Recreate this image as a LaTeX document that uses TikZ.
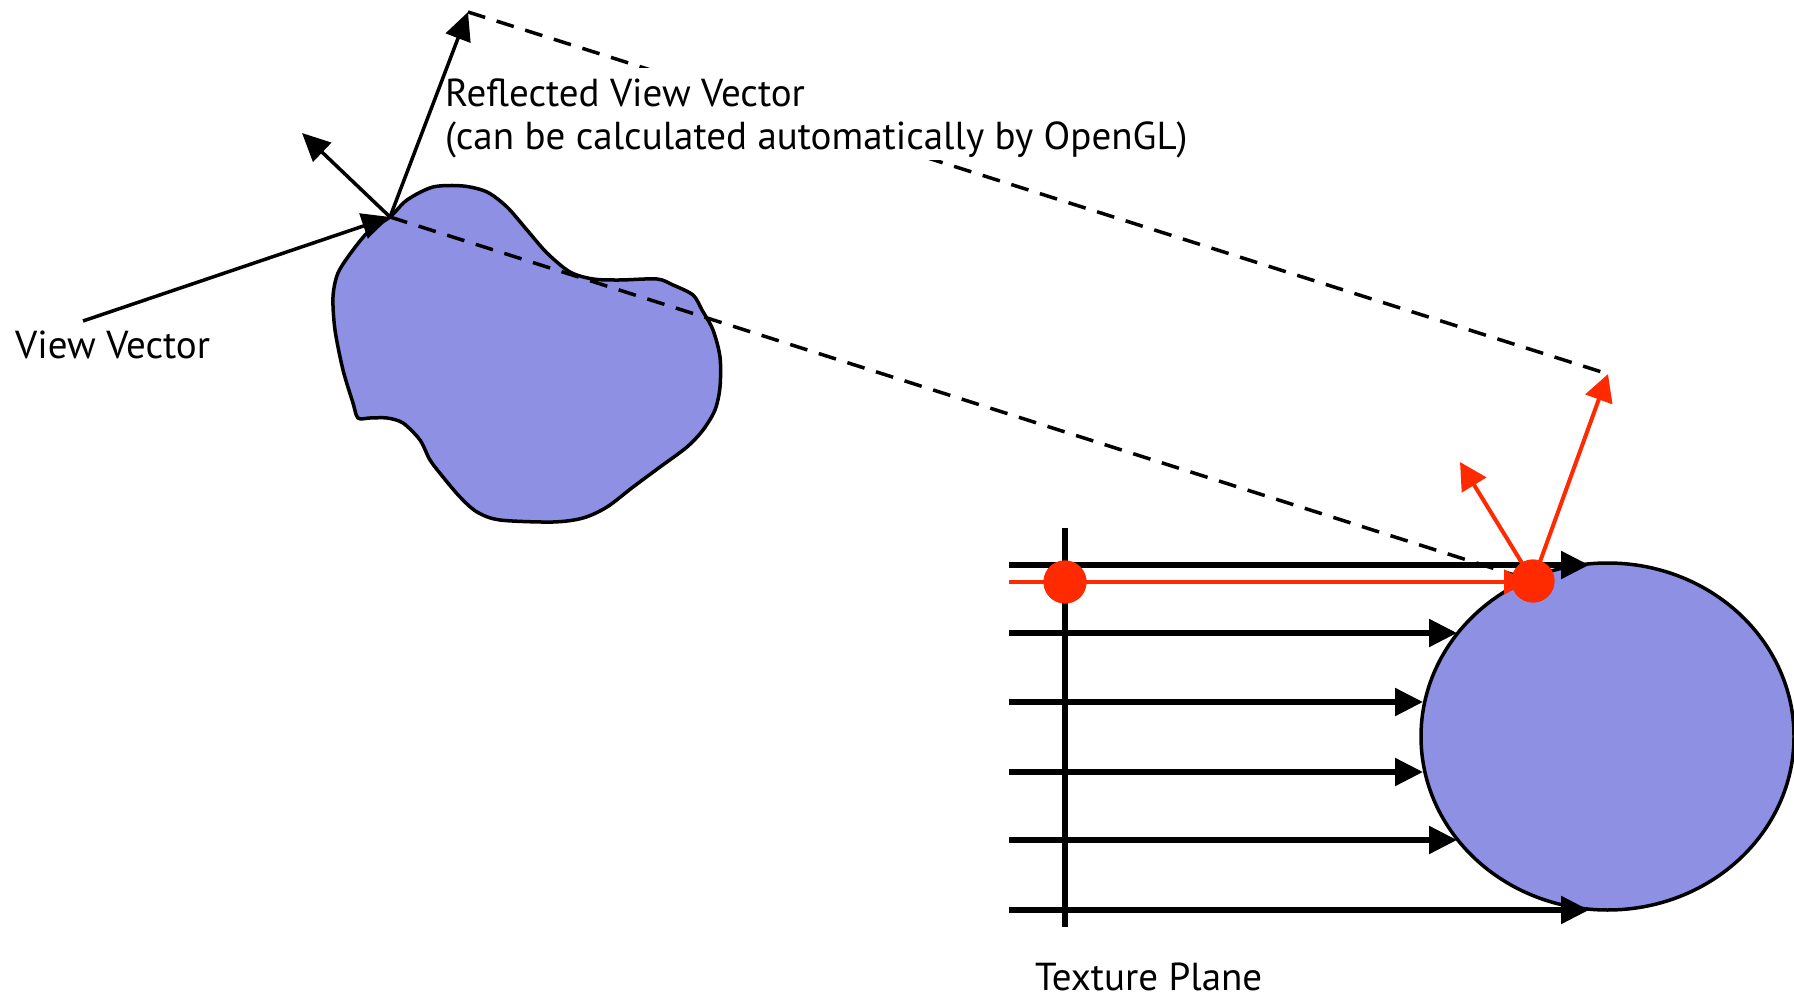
\documentclass[tikz,border=0pt]{standalone}
\usepackage{fontspec}
\setmainfont{PT Sans}
\usetikzlibrary{arrows.meta,shapes.geometric}
\definecolor{blobblue}{RGB}{142,144,228}
\definecolor{vred}{RGB}{255,42,0}
\begin{document}
\begin{tikzpicture}[x=1pt,y=-1pt,
  lbl/.style={font=\fontsize{39}{43}\selectfont, inner sep=0pt, anchor=base west},
  blk/.style={line width=3.5pt, -{Triangle[length=28pt,width=26pt]}},
  ray/.style={line width=5.5pt, -{Triangle[length=28pt,width=27pt]}},
  redarr/.style={vred, line width=4pt, -{Triangle[length=27pt,width=28pt]}},
  dashline/.style={line width=3.5pt, dash pattern=on 18pt off 12pt},
  reddot/.style={circle, fill=vred, minimum size=43pt, inner sep=0pt},
  outline/.style={line width=3.5pt, draw=black, fill=blobblue, line join=round}]
\useasboundingbox (0,0) rectangle (1794,1000);
% shapes
\draw[outline] plot[smooth cycle, tension=0.5] coordinates {
 (390,217) (407,200) (433,187) (463,186) (487,192) (507,207) (527,230)
 (547,253) (570,272) (593,279) (620,280) (657,279) (673,285) (693,295)
 (702,310) (713,330) (720,357) (720,387) (715,410) (703,430) (687,447)
 (660,467) (633,487) (607,507) (583,518) (553,522) (500,520) (477,512)
 (460,497) (443,477) (430,460) (420,440) (403,423) (387,418) (370,418)
 (358,418) (353,403) (343,370) (335,330) (333,297) (338,273) (353,250) (370,230)};
\node[ellipse, outline, minimum width=373pt, minimum height=347pt, inner sep=0pt] (sphere) at (1607.5,736.5) {};
% key points
\coordinate (I) at (390,217);
\coordinate (V0) at (83,321);
\coordinate (N1) at (302,133);
\coordinate (R1) at (468,12);
\coordinate (RR) at (1608,374);
\coordinate (RN) at (1460,462);
\node[reddot] (hitdot) at (1533,581) {};
% dashed construction lines
\draw[dashline] (R1) -- (RR);
\draw[dashline] (I) -- (hitdot.center);
% label with white background
\node[font=\fontsize{39}{43}\selectfont, fill=white, inner sep=0pt, anchor=north west, align=left]
 (rlabel) at (445,68) {\rule{0pt}{38pt}Reflected View Vector\\(can be calculated automatically by OpenGL)\rule[-11pt]{0pt}{11pt}};
% black vectors
\draw[blk] (V0) -- (I);
\draw[blk] (I) -- (N1);
\draw[blk] (I) -- (R1);
\node[lbl] (vlabel) at (15,359) {View Vector};
% texture plane
\coordinate (P0) at (1065,528);
\coordinate (P1) at (1065,927);
\draw[line width=5.5pt] (P0) -- (P1);
\foreach \y/\xe [count=\i] in {565/1589, 633/1457, 702/1423, 772/1423, 840/1457, 910/1589}{
  \coordinate (s\i) at (1009,\y);
  \coordinate (e\i) at (\xe,\y);
  \draw[ray] (s\i) -- (e\i);
}
\node[reddot] (planedot) at (1065,582) {};
\coordinate (rs) at (1009,582);
\draw[vred, line width=4.5pt, -{Triangle[length=24pt,width=24pt]}] (rs) -- (1528,582);
\draw[redarr] (hitdot.center) -- (RN);
\draw[redarr] (hitdot.center) -- (RR);
\node[reddot] at (hitdot) {};
\node[reddot] at (planedot) {};
\node[lbl] (tlabel) at (1035,990) {Texture Plane};
\end{tikzpicture}
\end{document}
